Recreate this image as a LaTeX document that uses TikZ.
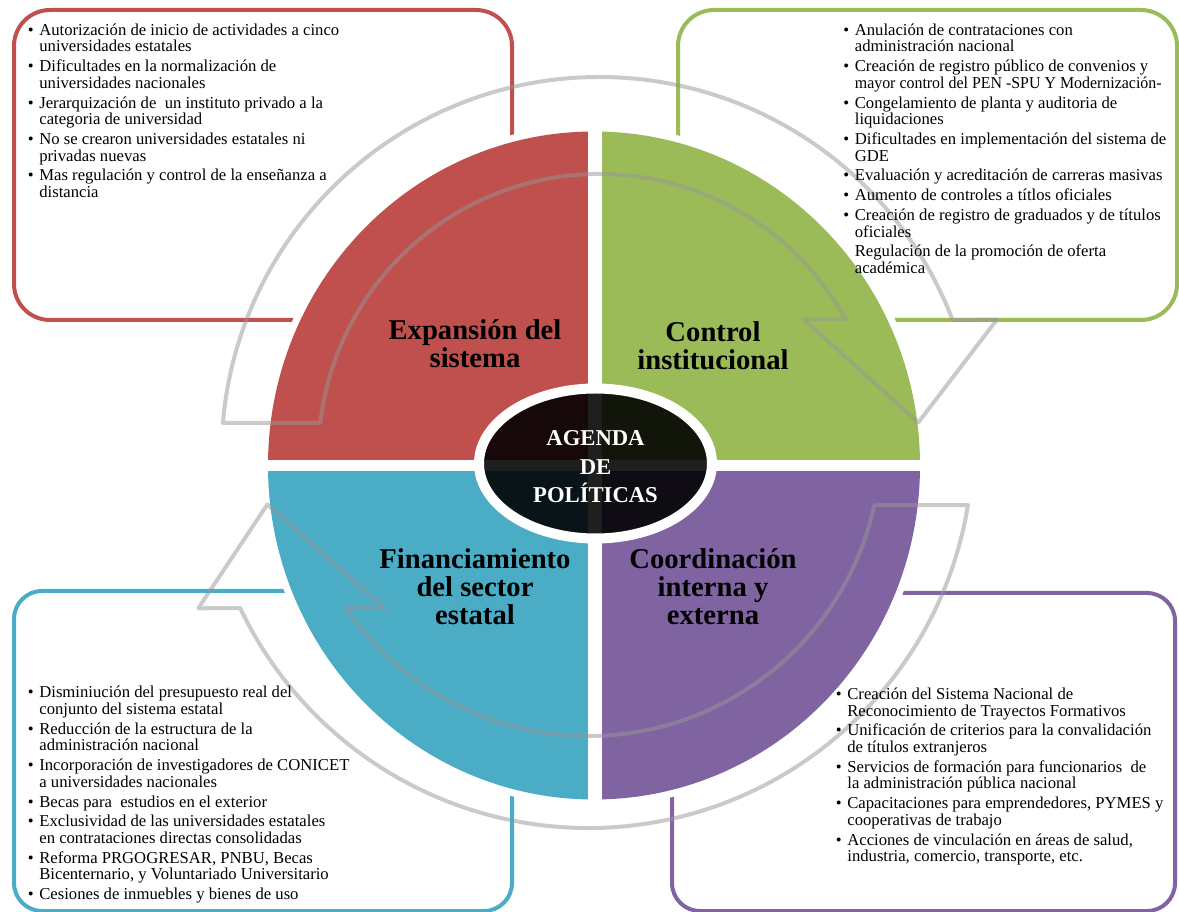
\documentclass[tikz,border=0pt]{standalone}
\usepackage{fontspec}
\usepackage{graphicx}
\setmainfont{Liberation Serif}
\usetikzlibrary{calc}
\definecolor{cred}{RGB}{192,80,77}
\definecolor{cgreen}{RGB}{155,187,89}
\definecolor{cblue}{RGB}{75,172,198}
\definecolor{cpurple}{RGB}{128,100,162}
\definecolor{cgray}{RGB}{150,150,150}
\newcommand{\itbul}{\makebox[8.7pt][l]{\textbullet}}
\newcommand{\itind}{\hspace*{8.7pt}}
\newcommand{\firststrut}{\rule{0pt}{12pt}}
\begin{document}
\begin{tikzpicture}[x=0.75pt,y=-0.75pt,
  cornerbox/.style={line width=3pt, rounded corners=27pt},
  arrowband/.style={draw=cgray, draw opacity=0.5, line width=3pt, line join=round},
  itemtext/.style={anchor=north west, inner sep=0pt, align=left, font=\fontsize{12.5pt}{12.45pt}\selectfont},
  quadlabel/.style={anchor=north, inner sep=0pt, align=center, font=\fontsize{21.5pt}{21pt}\selectfont\bfseries},
]
\useasboundingbox (0,0) rectangle (1179,912);
\clip (0,0) rectangle (1179,912);

% corner boxes
\draw[cornerbox, cred] (14,10) rectangle (512,320);
\draw[cornerbox, cgreen] (678,10) rectangle (1177,320);
\draw[cornerbox, cblue, rounded corners=21pt] (14,591) rectangle (512,911);
\draw[cornerbox, cpurple, rounded corners=21pt] (672,593) rectangle (1175,911);

% white halo and quadrants
\fill[white] (594,465.5) ellipse [x radius=333, y radius=341];
\begin{scope}
  \clip (594,465.5) ellipse [x radius=326, y radius=334];
  \fill[cred] (250,100) rectangle (587.5,460);
  \fill[cgreen] (601.5,100) rectangle (940,460);
  \fill[cblue] (250,471.5) rectangle (587.5,820);
  \fill[cpurple] (601.5,471.5) rectangle (940,820);
\end{scope}

% center ellipse
\draw[white, line width=7.5pt, fill=black, fill opacity=0.88] (595.5,463.5) ellipse [x radius=116.5, y radius=75];

% circular arrows
\draw[arrowband] ($(599.5,455)+(184.86:378)$) arc[start angle=184.86, end angle=339.08, radius=378]
  -- (997,319.5) -- (918.3,422.5) -- (804,319.5)
  -- ($(599.5,455)+(331.05:281)$) arc[start angle=331.05, end angle=186.54, radius=281] -- cycle;
\draw[arrowband] ($(588,443)+(9.27:385)$) arc[start angle=9.27, end angle=154.62, radius=385]
  -- (198.3,608.3) -- (267.3,504.5) -- (385,608.3)
  -- ($(588,443)+(145.73:293)$) arc[start angle=145.73, end angle=12.22, radius=293] -- cycle;

% box texts
\node[itemtext] (redtxt) at (27.5,19) {\firststrut\itbul Autorización de inicio de actividades a cinco\\
\itind universidades estatales\\[2.4pt]
\itbul Dificultades en la normalización de\\
\itind universidades nacionales\\[2.4pt]
\itbul Jerarquización de \ un instituto privado a la\\
\itind categoria de universidad\\[2.4pt]
\itbul No se crearon universidades estatales ni\\
\itind privadas nuevas\\[2.4pt]
\itbul Mas regulación y control de la enseñanza a\\
\itind distancia};

\node[itemtext] (greentxt) at (843,19) {\firststrut\itbul Anulación de contrataciones con\\
\itind administración nacional\\[2.4pt]
\itbul Creación de registro público de convenios y\\
\itind \scalebox{0.955}[1]{mayor control del PEN -SPU Y Modernización-}\\[2.4pt]
\itbul Congelamiento de planta y auditoria de\\
\itind liquidaciones\\[2.4pt]
\itbul Dificultades en implementación del sistema de\\
\itind GDE\\[2.4pt]
\itbul Evaluación y acreditación de carreras masivas\\[2.4pt]
\itbul Aumento de controles a títlos oficiales\\[2.4pt]
\itbul Creación de registro de graduados y de títulos\\
\itind oficiales\\[2.4pt]
\itind Regulación de la promoción de oferta\\
\itind académica};

\node[itemtext] (bluetxt) at (27.5,681.7) {\firststrut\itbul Disminiución del presupuesto real del\\
\itind conjunto del sistema estatal\\[2.4pt]
\itbul Reducción de la estructura de la\\
\itind administración nacional\\[2.4pt]
\itbul Incorporación de investigadores de CONICET\\
\itind a universidades nacionales\\[2.4pt]
\itbul Becas para \ estudios en el exterior\\[2.4pt]
\itbul Exclusividad de las universidades estatales\\
\itind en contrataciones directas consolidadas\\[2.4pt]
\itbul Reforma PRGOGRESAR, PNBU, Becas\\
\itind Bicenternario, y Voluntariado Universitario\\[2.4pt]
\itbul Cesiones de inmuebles y bienes de uso};

\node[itemtext] (purpletxt) at (835.5,683.3) {\firststrut\itbul Creación del Sistema Nacional de\\
\itind Reconocimiento de Trayectos Formativos\\[2.4pt]
\itbul Unificación de criterios para la convalidación\\
\itind de títulos extranjeros\\[2.4pt]
\itbul Servicios de formación para funcionarios \ de\\
\itind la administración pública nacional\\[2.4pt]
\itbul Capacitaciones para emprendedores, PYMES y\\
\itind cooperativas de trabajo\\[2.4pt]
\itbul Acciones de vinculación en áreas de salud,\\
\itind industria, comercio, transporte, etc.};

% quadrant labels
\node[quadlabel] (lexp) at (475,312.3) {\rule{0pt}{20pt}Expansión del\\sistema};
\node[quadlabel] (lctl) at (713,314.1) {\rule{0pt}{20pt}Control\\institucional};
\node[quadlabel] (lfin) at (475,541.3) {\rule{0pt}{20pt}Financiamiento\\del sector\\estatal};
\node[quadlabel] (lcoo) at (713,541.3) {\rule{0pt}{20pt}Coordinación\\interna y\\externa};

% center label
\node[anchor=north, inner sep=0pt, align=center, text=white, font=\fontsize{17pt}{21.6pt}\selectfont\bfseries] (agenda) at (595.5,423.7) {\rule{0pt}{16pt}AGENDA\\DE\\POLÍTICAS};
\end{tikzpicture}
\end{document}
